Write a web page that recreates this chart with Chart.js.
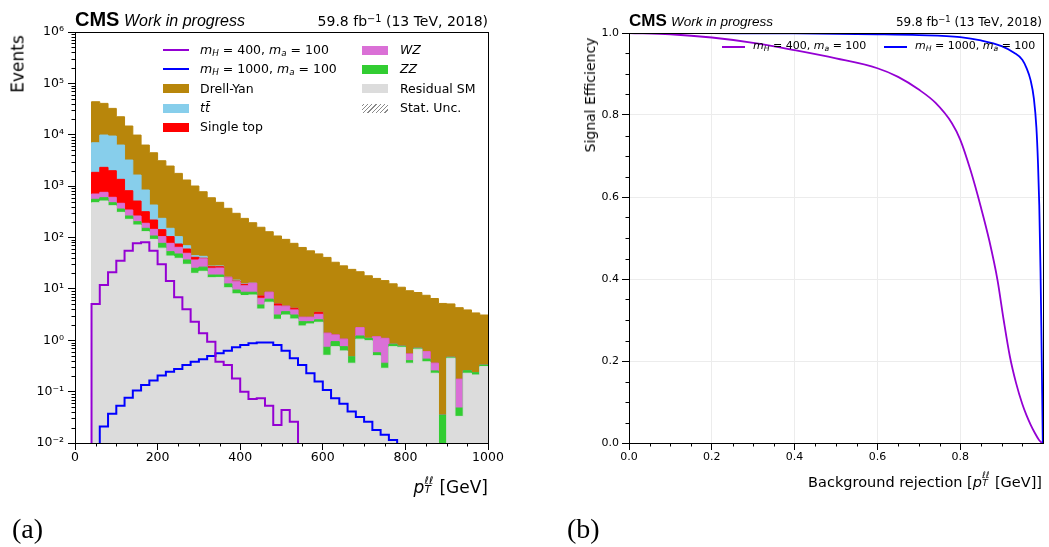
<!DOCTYPE html>
<html><head><meta charset="utf-8">
<script src="https://cdn.jsdelivr.net/npm/chart.js@4.4.1/dist/chart.umd.min.js"></script>
<style>
html,body{margin:0;padding:0;background:#fff}
body{position:relative;width:1049px;height:547px;overflow:hidden;font-family:"DejaVu Sans",sans-serif;color:#000}
.t{position:absolute;white-space:nowrap;line-height:1}
.cms{font-family:"Liberation Sans",Arial,sans-serif;font-weight:bold}
.wip{font-family:"Liberation Sans",Arial,sans-serif;font-style:italic}
.row{position:absolute;display:flex;align-items:center;white-space:nowrap}
.sw{display:inline-block;flex:none}
.ss{display:inline-block;position:relative;width:0.58em;height:1em}
.ss i{position:absolute;left:0.04em;font-size:62%;line-height:1}
.ss .up{top:-0.08em}
.ss .dn{top:0.8em}
.sub{font-size:70%;position:relative;top:0.25em}
.sup{font-size:70%;position:relative;top:-0.45em}
.rot{position:absolute;white-space:nowrap;line-height:1;transform:translate(-50%,-50%) rotate(-90deg)}
.cap{font-family:"Liberation Serif","Times New Roman",serif}
</style></head>
<body>
<canvas id="histo" width="520" height="520" style="position:absolute;left:0;top:0"></canvas>
<canvas id="roc" width="509" height="520" style="position:absolute;left:540px;top:0"></canvas>

<!-- panel (a) texts -->
<div class="t cms" style="left:75px;top:9px;font-size:20px">CMS</div>
<div class="t wip" style="left:124px;top:12.5px;font-size:16px">Work in progress</div>
<div class="t" style="right:561px;top:14px;font-size:14px">59.8 fb<span class="sup">−1</span> (13 TeV, 2018)</div>
<div class="rot" style="left:17.5px;top:63.5px;font-size:17px">Events</div>
<div class="t" style="right:561px;top:476px;font-size:17px"><i>p</i><span class="ss"><i class="up">ℓℓ</i><i class="dn">T</i></span> [GeV]</div>
<div class="t cap" style="left:12px;top:515px;font-size:28px">(a)</div>

<div id="legA" style="font-size:12.5px"></div>

<!-- panel (b) texts -->
<div class="t cms" style="left:629px;top:12px;font-size:17px">CMS</div>
<div class="t wip" style="left:671px;top:15px;font-size:13.5px">Work in progress</div>
<div class="t" style="right:7px;top:16px;font-size:12px">59.8 fb<span class="sup">−1</span> (13 TeV, 2018)</div>
<div class="rot" style="left:590px;top:95px;font-size:14px">Signal Efficiency</div>
<div class="t" style="right:7px;top:472px;font-size:14.5px">Background rejection [<i>p</i><span class="ss"><i class="up">ℓℓ</i><i class="dn">T</i></span> [GeV]]</div>
<div class="t cap" style="left:567px;top:515px;font-size:28px">(b)</div>

<div id="legB" style="font-size:11px"></div>

<script>
// ---------------- data: panel (a) ----------------
const binEdges = [0,20,40,60,80,100,120,140,160,180,200,220,240,260,280,300,320,340,360,380,400,
  420,440,460,480,500,520,540,560,580,600,620,640,660,680,700,720,740,760,780,800,
  820,840,860,880,900,920,940,960,980,1000];

const residualSM = [0,0,475,513,416,309,226,175,130,92,
  62,43.6,39.4,30.1,20.1,22,16.5,16.7,10.5,8.0,
  7.4,7.6,4.06,5.5,2.56,3.1,2.6,1.9,2.08,2.24,
  0.51,0.75,0.62,0.357,1.05,0.98,0.50,0.285,0.75,0.73,
  0.357,0.67,0.38,0.228,0,0.447,0.033,0.228,0.211,0.307];

const zz = [0,0,79,82,59,49,36,28,21,15,
  15,9.4,8.4,6.4,5.1,4.5,2.1,1.9,2.0,1.5,
  1.2,1.0,0.8,0.8,0.54,0.5,0.5,0.4,0.22,0.26,
  0.22,0.19,0.13,0.12,0.16,0.11,0.07,0.072,0.09,0.04,
  0.043,0.03,0.05,0.025,0.035,0.02,0.015,0.028,0.023,0.023];

const wz = [0,0,148,162,131,105,81,59,38,37,
  27,24,16.7,12.8,11.3,12,6.6,6.9,4.0,4.3,
  2.9,4.2,1.7,2.3,1.55,1.0,0.8,0.5,0.5,0.7,
  0.64,0.33,0.3,0,0.55,0,0.6,0.73,0,0,
  0.14,0,0.17,0.104,0,0,0.126,0,0,0];

const singleTop = [0,0,1153,1563,1389,893,471,251,129,75,
  38,27,10.3,10.4,4.7,1.0,1.8,1.5,0.3,0.4,
  0.8,0,0.74,0,0.45,0,0.3,0,0,0.3,
  0,0,0,0,0,0,0,0,0,0,
  0,0,0,0,0,0,0,0,0,0];

const ttbar = [0,0,5135,7550,7445,4944,2406,1131,522,210,
  94,47,29.2,9.6,3.1,3.5,0.8,1.0,0.2,0.6,
  0.3,0.2,0,0,0,0,0,0,0,0,
  0,0,0,0,0,0,0,0,0,0,
  0,0,0,0,0,0,0,0,0,0];

const drellYan = [0,0,36910,30930,23160,16100,11580,8216,5460,4031,
  2884,2309,1666,1246,961,735,566,456,353,281,
  223,181,151,121,102,87.4,72.8,61.2,52.2,44.5,
  39.6,31.7,27,23.5,19.8,16.9,14.8,13.4,11.7,10.0,
  8.66,7.8,6.9,6.14,5.17,4.63,4.13,3.64,3.17,2.77];

const sigH400 = [0,0,5.1,11.9,21,35.4,55.4,77,80.7,55.4,
  30.1,14.3,6.9,4.0,2.3,1.37,0.94,0.38,0.33,0.18,
  0.10,0.072,0.074,0.053,0.0225,0.044,0.026,0,0,0,
  0,0,0,0,0,0,0,0,0,0,
  0,0,0,0,0,0,0,0,0,0];

const sigH1000 = [0,0,0,0.021,0.037,0.053,0.076,0.105,0.135,0.164,
  0.205,0.245,0.275,0.33,0.38,0.427,0.495,0.558,0.628,0.73,
  0.81,0.875,0.9,0.9,0.81,0.628,0.447,0.33,0.228,0.157,
  0.108,0.074,0.058,0.041,0.032,0.026,0.018,0.0144,0.0115,0,
  0,0,0,0,0,0,0,0,0,0];

const histXTicks = [0,200,400,600,800,1000];
const histXLabels = ['0','200','400','600','800','1000'];
const histYTicks = [1e-2,1e-1,1,10,100,1e3,1e4,1e5,1e6];
const histYLabels = ['10⁻²','10⁻¹','10⁰','10¹','10²','10³','10⁴','10⁵','10⁶'];

// ---------------- data: panel (b) ----------------
const rocRej400 = [0,0.1,0.2,0.3,0.4,0.5,0.6,0.65,0.7,0.74,0.78,0.80,0.825,0.85,0.87,0.89,0.905,0.92,0.935,0.95,0.96,0.97,0.98,0.99,0.997];
const rocEff400 = [1.0,0.997,0.989,0.976,0.958,0.938,0.914,0.893,0.862,0.83,0.78,0.74,0.665,0.575,0.495,0.398,0.30,0.211,0.146,0.095,0.068,0.045,0.025,0.008,0.0];
const rocRej1000 = [0,0.2,0.4,0.6,0.7,0.8,0.85,0.9,0.93,0.95,0.96,0.97,0.978,0.984,0.988,0.991,0.994,0.996,0.998,0.9995];
const rocEff1000 = [1.0,0.9995,0.999,0.997,0.995,0.99,0.982,0.968,0.952,0.935,0.915,0.885,0.84,0.77,0.68,0.58,0.42,0.28,0.12,0.0];
const rocXTicks = [0,0.2,0.4,0.6,0.8];
const rocXLabels = ['0.0','0.2','0.4','0.6','0.8'];
const rocYTicks = [0,0.2,0.4,0.6,0.8,1.0];
const rocYLabels = ['0.0','0.2','0.4','0.6','0.8','1.0'];

// ---------------- styles ----------------
const C = {
  h400:'#9400D3', h1000:'#0000FF',
  dy:'#B8860B', tt:'#87CEEB', st:'#FF0000', wz:'#DA70D6', zz:'#32CD32', res:'#DCDCDC', unc:'#8a8a8a'
};
const FLOOR = 1e-6; // empty bins lie below the visible axis range

function stepPoints(vals){
  const pts = vals.map((v,i)=>({x:binEdges[i], y: v>0 ? v : FLOOR}));
  pts.push({x:binEdges[vals.length], y: pts[pts.length-1].y});
  return pts;
}
const layers = [residualSM, zz, wz, singleTop, ttbar, drellYan];
const cum = [];
let run = residualSM.map(()=>0);
layers.forEach(a=>{ run = run.map((v,i)=>v+a[i]); cum.push(run.slice()); });

const frameMinor = {
  id:'frameMinor',
  afterDraw(chart, args, o){
    const ctx = chart.ctx, a = chart.chartArea, xs = chart.scales.x, ys = chart.scales.y;
    ctx.save();
    ctx.strokeStyle = '#000'; ctx.lineWidth = 1;
    ctx.beginPath();
    (o.xMinor||[]).forEach(v=>{ const p = Math.round(xs.getPixelForValue(v))+0.5; ctx.moveTo(p, Math.round(a.bottom)); ctx.lineTo(p, Math.round(a.bottom)+o.len); });
    (o.yMinor||[]).forEach(v=>{ const p = Math.round(ys.getPixelForValue(v))+0.5; ctx.moveTo(Math.round(a.left), p); ctx.lineTo(Math.round(a.left)-o.len, p); });
    ctx.stroke();
    ctx.strokeRect(Math.round(a.left)+0.5, Math.round(a.top)+0.5, Math.round(a.right-a.left), Math.round(a.bottom-a.top));
    ctx.restore();
  }
};

const tickFontA = {family:'DejaVu Sans', size:12.5};
const tickFontB = {family:'DejaVu Sans', size:11};
function ticksFrom(vals){ return s => { s.ticks = vals.map(v=>({value:v})); }; }

// minor tick positions
const histXMinor = []; for (let v=50; v<1000; v+=50) if (v%200) histXMinor.push(v);
const histYMinor = []; for (let e=-2; e<6; e++) for (let m=2; m<10; m++) histYMinor.push(m*Math.pow(10,e));
const rocXMinor = []; for (let i=1;i<20;i++) if (i%4) rocXMinor.push(i*0.05);
const rocYMinor = []; for (let i=1;i<20;i++) if (i%4) rocYMinor.push(i*0.05);

const bgDS = (label, data, color) => ({label, data: stepPoints(data), stepped:true, fill:'start',
  backgroundColor:color, borderColor:color, borderWidth:1, pointRadius:0});

new Chart(document.getElementById('histo'), {
  type:'line',
  data:{ datasets:[
    {label:'mH400', data:stepPoints(sigH400), stepped:true, fill:false, borderColor:C.h400, borderWidth:2, pointRadius:0},
    {label:'mH1000', data:stepPoints(sigH1000), stepped:true, fill:false, borderColor:C.h1000, borderWidth:2, pointRadius:0},
    bgDS('Residual SM', cum[0], C.res),
    bgDS('ZZ', cum[1], C.zz),
    bgDS('WZ', cum[2], C.wz),
    bgDS('Single top', cum[3], C.st),
    bgDS('tt', cum[4], C.tt),
    bgDS('Drell-Yan', cum[5], C.dy)
  ]},
  options:{
    responsive:false, animation:false, devicePixelRatio:1,
    layout:{padding:{left:0, top:32, right:32, bottom:47}},
    plugins:{legend:{display:false}, tooltip:{enabled:false},
      frameMinor:{xMinor:histXMinor, yMinor:histYMinor, len:3.5}},
    scales:{
      x:{type:'linear', min:0, max:1000, afterBuildTicks:ticksFrom(histXTicks),
        afterFit:s=>{s.height=30;},
        ticks:{callback:(v,i)=>histXLabels[i], font:tickFontA, color:'#000', padding:0, maxRotation:0, autoSkip:false},
        grid:{drawOnChartArea:false, tickLength:7, tickColor:'#000'}, border:{color:'#000', width:1}},
      y:{type:'logarithmic', min:1e-2, max:1e6, afterBuildTicks:ticksFrom(histYTicks),
        afterFit:s=>{s.width=75;},
        ticks:{callback:(v,i)=>histYLabels[i], font:tickFontA, color:'#000', padding:4, autoSkip:false},
        grid:{drawOnChartArea:false, tickLength:7, tickColor:'#000'}, border:{color:'#000', width:1}}
    }
  },
  plugins:[frameMinor]
});

new Chart(document.getElementById('roc'), {
  type:'line',
  data:{ datasets:[
    {label:'mH400', data:rocRej400.map((x,i)=>({x, y:rocEff400[i]})), borderColor:C.h400, borderWidth:1.8, pointRadius:0, fill:false, cubicInterpolationMode:'monotone'},
    {label:'mH1000', data:rocRej1000.map((x,i)=>({x, y:rocEff1000[i]})), borderColor:C.h1000, borderWidth:1.8, pointRadius:0, fill:false, cubicInterpolationMode:'monotone'}
  ]},
  options:{
    responsive:false, animation:false, devicePixelRatio:1,
    layout:{padding:{left:0, top:33, right:6, bottom:47}},
    plugins:{legend:{display:false}, tooltip:{enabled:false},
      frameMinor:{xMinor:rocXMinor, yMinor:rocYMinor, len:3.5}},
    scales:{
      x:{type:'linear', min:0, max:1, afterBuildTicks:ticksFrom(rocXTicks),
        afterFit:s=>{s.height=30;},
        ticks:{callback:(v,i)=>rocXLabels[i], font:tickFontB, color:'#000', padding:1, maxRotation:0, autoSkip:false},
        grid:{color:'#ececec', tickLength:7, tickColor:'#000'}, border:{color:'#000', width:1}},
      y:{type:'linear', min:0, max:1, afterBuildTicks:ticksFrom(rocYTicks),
        afterFit:s=>{s.width=89;},
        ticks:{callback:(v,i)=>rocYLabels[i], font:tickFontB, color:'#000', padding:3, autoSkip:false},
        grid:{color:'#ececec', tickLength:7, tickColor:'#000'}, border:{color:'#000', width:1}}
    }
  },
  plugins:[frameMinor]
});

// ---------------- legends (HTML) ----------------
const mh400 = '<i>m</i><span class="sub"><i>H</i></span> = 400, <i>m</i><span class="sub"><i>a</i></span> = 100';
const mh1000 = '<i>m</i><span class="sub"><i>H</i></span> = 1000, <i>m</i><span class="sub"><i>a</i></span> = 100';
const hatch = 'repeating-linear-gradient(-45deg, transparent 0 2px, '+C.unc+' 2px 3px)';
const legAItems = [
  {x:163, y:50,   kind:'line', color:C.h400, html:mh400},
  {x:163, y:69.3, kind:'line', color:C.h1000, html:mh1000},
  {x:163, y:88.6, kind:'box', color:C.dy, html:'Drell-Yan'},
  {x:163, y:108,  kind:'box', color:C.tt, html:'<i>tt̄</i>'},
  {x:163, y:127.3,kind:'box', color:C.st, html:'Single top'},
  {x:362, y:50,   kind:'box', color:C.wz, html:'<i>WZ</i>'},
  {x:362, y:69.3, kind:'box', color:C.zz, html:'<i>ZZ</i>'},
  {x:362, y:88.6, kind:'box', color:C.res, html:'Residual SM'},
  {x:362, y:108,  kind:'hatch', color:C.unc, html:'Stat. Unc.'}
];
const legA = document.getElementById('legA');
legAItems.forEach(it=>{
  const r = document.createElement('div');
  r.className='row';
  r.style.cssText = `left:${it.x}px;top:${it.y-7}px;height:14px;line-height:14px;`;
  const sw = document.createElement('span'); sw.className='sw';
  sw.style.width='26px';
  sw.style.marginRight = (it.x>300?12:11)+'px';
  if (it.kind==='line'){ sw.style.height='2px'; sw.style.background=it.color; }
  else if (it.kind==='box'){ sw.style.height='9px'; sw.style.background=it.color; }
  else { sw.style.height='9px'; sw.style.background=hatch; }
  const tx = document.createElement('span'); tx.innerHTML = it.html;
  r.appendChild(sw); r.appendChild(tx); legA.appendChild(r);
});
const legBItems = [
  {x:722, y:46.7, color:C.h400, html:mh400},
  {x:884, y:46.7, color:C.h1000, html:mh1000}
];
const legB = document.getElementById('legB');
legBItems.forEach(it=>{
  const r = document.createElement('div');
  r.className='row';
  r.style.cssText = `left:${it.x}px;top:${it.y-6}px;height:12px;line-height:12px;`;
  const sw = document.createElement('span'); sw.className='sw';
  sw.style.cssText='width:23px;height:2px;margin-right:8px;background:'+it.color;
  const tx = document.createElement('span'); tx.innerHTML = it.html;
  r.appendChild(sw); r.appendChild(tx); legB.appendChild(r);
});
</script>
</body></html>
